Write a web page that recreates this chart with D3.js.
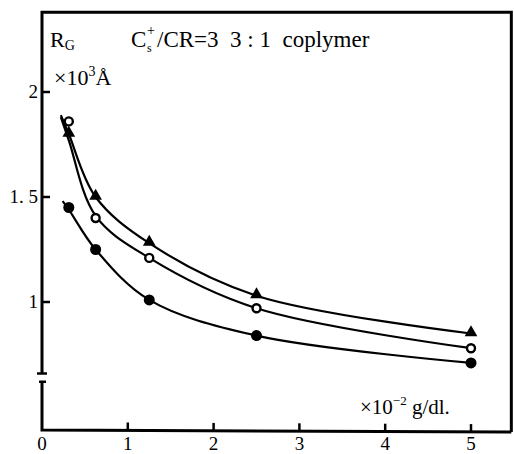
<!DOCTYPE html>
<html><head><meta charset="utf-8">
<script src="https://cdn.jsdelivr.net/npm/d3@7"></script>
<style>body{margin:0;background:#fff}svg{display:block}text{font-family:"Liberation Serif","DejaVu Serif",serif;fill:#000}</style>
</head><body><svg id="c" width="514" height="454"></svg>
<script>
// concentrations (x10^-2 g/dl)
const conc = [0.3125, 0.625, 1.25, 2.5, 5];
// R_G (x10^3 Å)
const triangleVals = [1.80, 1.50, 1.28, 1.03, 0.85];
const openVals     = [1.86, 1.40, 1.21, 0.97, 0.78];
const filledVals   = [1.45, 1.25, 1.01, 0.84, 0.71];
// smooth fitted curves: [x, y]
const triangleCurve = [[0.22,1.89],[0.3125,1.80],[0.625,1.50],[1.25,1.28],[2.5,1.03],[5,0.85]];
const openCurve     = [[0.22,1.88],[0.3125,1.77],[0.625,1.41],[1.25,1.21],[2.5,0.97],[5,0.78]];
const filledCurve   = [[0.24,1.48],[0.3125,1.44],[0.625,1.25],[1.25,1.01],[2.5,0.84],[5,0.71]];
const xTicks = [0,1,2,3,4,5];
const yTicks = [1, 1.5, 2];
const yTickLabels = ["1", "1. 5", "2"];

const svg = d3.select("#c");
const x = d3.scaleLinear().domain([0,5]).range([42,471]);
const y = d3.scaleLinear().domain([1,2]).range([302,92]);
const xR = x(5.47), yT = y(2.38), yB = y(0.39);
const brk1 = y(0.66), brk2 = y(0.62);

const g = svg.append("g");
// frame
const ax = g.append("g").attr("stroke","#000").attr("fill","none");
ax.append("path").attr("stroke-width",3).attr("d",`M${x(0)},${brk1}V${yT}H${xR}V${yB+2}`);
ax.append("path").attr("stroke-width",3).attr("d",`M${x(0)},${brk2}V${yB}L${xR},${yB+2}`);
ax.append("path").attr("stroke-width",2.5).attr("d",`M${x(0)-5},${brk1}h10M${x(0)-3},${brk2}h7`);
// y ticks
yTicks.forEach((t,i)=>{
  ax.append("line").attr("stroke-width",2.5).attr("x1",x(0)).attr("x2",x(0)+8).attr("y1",y(t)).attr("y2",y(t));
  g.append("text").attr("x",x(0)-4).attr("y",y(t)+6).attr("text-anchor","end").attr("font-size",19).text(yTickLabels[i]);
});
// x ticks
xTicks.forEach(t=>{
  if(t>0) ax.append("line").attr("stroke-width",2.5).attr("x1",x(t)).attr("x2",x(t)).attr("y1",yB+0.4*t).attr("y2",yB+0.4*t-8);
  g.append("text").attr("x",x(t)).attr("y",450).attr("text-anchor","middle").attr("font-size",19).text(t);
});

// curves
const line = d3.line().x(d=>x(d[0])).y(d=>y(d[1])).curve(d3.curveCatmullRom.alpha(0.5));
[triangleCurve, openCurve, filledCurve].forEach(c=>{
  g.append("path").attr("d",line(c)).attr("fill","none").attr("stroke","#000").attr("stroke-width",2.2);
});
// markers
conc.forEach((c,i)=>{
  const tx=x(c), ty=y(triangleVals[i]);
  g.append("path").attr("d",d3.symbol(d3.symbolTriangle,70)()).attr("transform",`translate(${tx},${ty-1})`).attr("fill","#000");
  g.append("circle").attr("cx",x(c)).attr("cy",y(openVals[i])).attr("r",4).attr("fill","#fff").attr("stroke","#000").attr("stroke-width",2.4);
  g.append("circle").attr("cx",x(c)).attr("cy",y(filledVals[i])).attr("r",5.5).attr("fill","#000");
});

// texts
const t1 = g.append("text").attr("x",50).attr("y",47).attr("font-size",22);
t1.append("tspan").text("R");
t1.append("tspan").attr("font-size",14).attr("dy",3).text("G");
g.append("text").attr("x",131).attr("y",47).attr("font-size",23).text("C");
g.append("text").attr("x",147).attr("y",52).attr("font-size",12).text("s");
g.append("text").attr("x",147).attr("y",35).attr("font-size",14).text("+");
g.append("text").attr("x",157).attr("y",47).attr("font-size",23).text("/CR=3\u00a0\u00a03 : 1\u00a0\u00a0coplymer");
const t3 = g.append("text").attr("x",54).attr("y",85).attr("font-size",22);
t3.append("tspan").text("×10");
t3.append("tspan").attr("font-size",14).attr("dy",-9).text("3");
t3.append("tspan").attr("dy",9).text("Å");
const t4 = g.append("text").attr("x",360).attr("y",414).attr("font-size",21);
t4.append("tspan").text("×10");
t4.append("tspan").attr("font-size",13).attr("dy",-9).text("−2");
t4.append("tspan").attr("dy",9).text(" g/dl.");
</script></body></html>
